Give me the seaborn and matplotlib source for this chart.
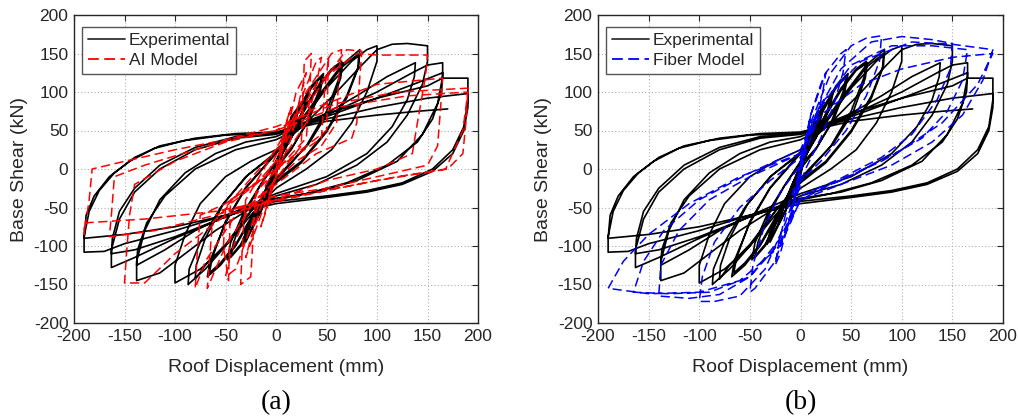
import numpy as np
import pandas as pd
import matplotlib
matplotlib.use("Agg")
import matplotlib.pyplot as plt
import seaborn as sns
from matplotlib.lines import Line2D

# ---------------- data ----------------
ticks = [-200, -150, -100, -50, 0, 50, 100, 150, 200]

# Experimental hysteresis path (displacement mm, base shear kN)
exp_disp = [0, 5, 10, 8, 0, -5, -10, -8, 0,
            8, 15, 12, 5, 0, -8, -15, -12, -5, 0,
            10, 20, 17, 8, 0, -10, -20, -17, -8, 0,
            10, 22, 19, 9, 0, -10, -22, -19, -9, 0,
            15, 30, 27, 15, 0, -15, -30, -27, -15, 0,
            15, 32, 29, 16, 0, -15, -33, -30, -16, 0,
            20, 35, 45, 42, 30, 15, 0, -20, -35, -45, -42, -30, -15, 0,
            20, 35, 47, 44, 32, 16, 0, -20, -35, -48, -45, -32, -16, 0,
            20, 40, 55, 65, 63, 50, 30, 10, 0, -20, -40, -55, -68, -65, -50, -30, -10, 0,
            20, 40, 55, 66, 64, 52, 32, 12, 0, -20, -40, -55, -66, -63, -50, -30, -10, 0,
            20, 45, 65, 83, 82, 70, 50, 25, 0, -25, -50, -70, -87, -86, -75, -55, -30, 0,
            20, 45, 65, 82, 81, 70, 50, 25, 0, -25, -50, -70, -80, -79, -70, -52, -28, 0,
            25, 50, 75, 90, 100, 100, 90, 75, 55, 30, 0, -25, -50, -75, -100, -100, -90, -75, -50, -25, 0,
            30, 60, 85, 100, 115, 130, 150, 150, 145, 130, 110, 80, 40, 0, -30, -60, -90, -115, -138, -138, -130, -115, -90, -60, -30, 0,
            40, 80, 110, 138, 137, 130, 115, 90, 50, 0, -40, -80, -110, -138, -137, -128, -110, -80, -40, 0,
            50, 100, 135, 150, 165, 165, 160, 145, 120, 80, 40, 0, -50, -100, -140, -163, -163, -155, -140, -115, -80, -40, 0,
            50, 100, 140, 165, 164, 155, 140, 110, 70, 30, 0, -50, -100, -140, -163, -162, -155, -140, -115, -80, -40, 0,
            50, 100, 150, 165, 190, 190, 186, 175, 155, 125, 90, 50, 0, -50, -100, -150, -170, -190, -190, -185, -175, -160, -140, -115, -80, -40, 0,
            50, 100, 150, 190, 190, 186, 175, 155, 125, 90, 50, 0, -50, -100, -150, -190, -188, -180, -165, -145, -120, -90, -50, 0,
            50, 100, 140, 170]
exp_shear = [0, 25, 40, 30, 10, -15, -38, -28, -8,
             35, 55, 42, 15, 2, -32, -55, -42, -15, 0,
             45, 70, 55, 25, 0, -40, -68, -52, -20, 5,
             48, 75, 60, 28, 4, -42, -72, -56, -22, 3,
             65, 95, 78, 40, 5, -55, -95, -78, -40, -5,
             68, 98, 80, 42, 8, -55, -98, -80, -42, -2,
             70, 105, 120, 100, 60, 25, 0, -60, -100, -115, -95, -55, -20, 10,
             72, 108, 124, 102, 62, 28, 5, -58, -98, -118, -96, -56, -22, 8,
             60, 105, 130, 140, 120, 75, 30, 0, -15, -55, -100, -125, -140, -118, -70, -25, 5, 20,
             58, 102, 128, 138, 118, 74, 32, 5, -12, -52, -98, -122, -135, -115, -68, -24, 6, 22,
             55, 100, 135, 155, 135, 95, 50, 10, -15, -55, -100, -130, -150, -130, -95, -50, -10, 20,
             52, 98, 132, 150, 130, 92, 48, 8, -18, -55, -98, -125, -143, -125, -90, -45, -8, 22,
             60, 105, 140, 155, 160, 140, 100, 60, 25, 0, -25, -60, -100, -130, -148, -125, -85, -45, -10, 10, 25,
             60, 100, 135, 155, 162, 163, 160, 140, 110, 70, 35, 5, -20, -35, -55, -80, -110, -135, -145, -120, -80, -40, -5, 20, 35, 42,
             65, 95, 120, 138, 120, 90, 55, 20, -10, -32, -55, -80, -105, -125, -105, -70, -35, 0, 25, 38,
             70, 100, 125, 135, 138, 120, 85, 45, 10, -15, -30, -38, -62, -90, -115, -128, -105, -65, -30, 0, 25, 40, 45,
             68, 92, 112, 125, 100, 65, 35, 5, -18, -32, -40, -62, -88, -105, -110, -90, -55, -25, 5, 28, 42, 46,
             72, 92, 108, 118, 118, 90, 55, 25, 0, -18, -28, -35, -42, -60, -80, -97, -107, -108, -88, -55, -28, -5, 15, 30, 40, 46, 48,
             65, 80, 92, 98, 80, 50, 20, -3, -20, -30, -37, -45, -60, -75, -85, -90, -60, -35, -10, 10, 27, 37, 44, 47,
             62, 70, 75, 78]

# AI model path
ai_disp = [0, 8, 15, 10, 5, -5, -15, -10, 0,
           20, 30, 25, 15, -15, -30, -25, -10,
           25, 28, 35, 33, 30, -20, -25, -35, -33, -30,
           15, 40, 45, 40, 30, 10, -10, -40, -50, -45, -30, -10,
           50, 52, 48, 45, -45, -47, -52, -50,
           10, 30, 55, 65, 62, 60, 45, 20, -20, -50, -68, -66, -63, -45, -20, 0,
           20, 50, 70, 85, 83, 80, 75, 40, 0, -40, -70, -80, -78, -75, -50, -10, 10,
           40, 80, 100, 150, 148, 140, 135, 100, 50, 0, -50, -100, -130, -150, -148, -145, -140, -100, -50, 0,
           40, 100, 165, 163, 160, 150, 100, 50, 0, -60, -120, -165, -163, -160, -130, -80, -30, 0,
           60, 120, 190, 188, 185, 170, 100, 50, 0, -60, -130, -190, -190, -185, -182, -150, -100, -50, 0,
           60, 130, 190, 185, 168, 120, 60, 0, -40]
ai_shear = [0, 50, 80, 60, 20, -30, -75, -55, -10,
            100, 125, 100, 40, -60, -115, -90, -30,
            30, 140, 150, 90, 40, -30, -140, -150, -90, -40,
            60, 140, 145, 110, 60, 20, -20, -130, -140, -110, -60, -10,
            50, 145, 100, 40, -40, -145, -100, -50,
            40, 100, 150, 155, 120, 60, 30, 10, -40, -100, -155, -120, -70, -45, -20, 10,
            60, 120, 155, 153, 120, 60, 40, 20, -20, -60, -120, -155, -110, -60, -45, -10, 45,
            110, 150, 148, 148, 120, 60, 20, 0, -15, -40, -60, -110, -148, -148, -110, -60, -20, 10, 35, 50,
            80, 110, 118, 80, 30, 5, -10, -25, -35, -60, -80, -88, -60, -10, 5, 25, 45, 55,
            85, 100, 105, 60, 20, 0, -15, -28, -40, -55, -65, -70, -85, -40, 0, 10, 25, 38, 50,
            80, 95, 100, 50, 0, -10, -25, -42, -52]

# Fiber model path
fib_disp = [0, 5, 10, 8, 0, -5, -10, -8, 0,
            10, 20, 25, 22, 15, 5, 0, -10, -20, -25, -22, -15, -5, 0,
            10, 25, 40, 45, 42, 32, 20, 5, -10, -25, -45, -50, -47, -37, -20, 0,
            10, 30, 50, 65, 80, 78, 65, 45, 20, 0, -15, -35, -60, -85, -100, -97, -85, -60, -30, 0,
            15, 40, 70, 100, 130, 150, 148, 135, 110, 80, 40, 0, -20, -50, -80, -110, -140, -138, -120, -90, -50, 0,
            20, 50, 90, 130, 165, 160, 145, 120, 80, 30, 0, -20, -50, -90, -130, -165, -155, -135, -100, -50, 0,
            20, 60, 110, 150, 190, 180, 160, 130, 90, 40, 0, -20, -60, -100, -150, -190, -175, -150, -110, -60, 0,
            20, 60, 100, 150, 190, 175, 140, 100, 40, 0]
fib_shear = [0, 40, 70, 50, 10, -35, -70, -50, -10,
             70, 110, 125, 100, 60, 20, 5, -60, -110, -125, -100, -60, -20, -5,
             70, 125, 150, 155, 125, 80, 40, 0, -60, -120, -155, -160, -125, -80, -30, 5,
             60, 125, 160, 170, 173, 140, 95, 50, 10, -15, -70, -130, -165, -172, -172, -140, -95, -50, -15, 15,
             70, 130, 165, 172, 168, 163, 130, 90, 45, 15, -12, -35, -90, -140, -163, -168, -165, -125, -80, -40, -10, 20,
             80, 135, 160, 160, 155, 115, 75, 40, 10, -20, -40, -95, -140, -160, -162, -160, -120, -80, -40, -5, 25,
             85, 140, 165, 162, 155, 115, 70, 35, 5, -20, -40, -100, -145, -160, -162, -155, -120, -85, -45, -10, 20,
             70, 110, 130, 145, 150, 110, 60, 25, -15, -35]

legend_labels = ["Experimental", "AI Model", "Fiber Model"]
panel_labels = ["(a)", "(b)"]
axis_labels = ["Roof Displacement (mm)", "Base Shear (kN)"]

# ---------------- plotting ----------------
sns.set_style("white")
plt.rcParams["font.family"] = ["Liberation Sans", "DejaVu Sans"]

W, H = 1018, 417
fig = plt.figure(figsize=(W / 100, H / 100), dpi=100)
ax_a = fig.add_axes([74 / W, 94 / H, 404 / W, 308 / H])
ax_b = fig.add_axes([598 / W, 94 / H, 405 / W, 308 / H])

exp_df = pd.DataFrame({"d": exp_disp, "v": exp_shear})
ai_df = pd.DataFrame({"d": ai_disp, "v": ai_shear})
fib_df = pd.DataFrame({"d": fib_disp, "v": fib_shear})

dash = (0, (6, 3))
panels = [(ax_a, ai_df, "#ff0000", legend_labels[1], panel_labels[0]),
          (ax_b, fib_df, "#0000ff", legend_labels[2], panel_labels[1])]

for ax, mdf, col, lab, plab in panels:
    sns.lineplot(data=exp_df, x="d", y="v", sort=False, estimator=None,
                 color="black", lw=1.2, ax=ax)
    sns.lineplot(data=mdf, x="d", y="v", sort=False, estimator=None,
                 color=col, lw=1.1, linestyle=dash, ax=ax)
    ax.set_xlim(-200, 200)
    ax.set_ylim(-200, 200)
    ax.set_xticks(ticks)
    ax.set_yticks(ticks)
    ax.set_xticklabels([str(t) for t in ticks])
    ax.set_yticklabels([str(t) for t in ticks])
    ax.tick_params(direction="in", top=True, right=True, length=4, width=0.8,
                   labelsize=12.5, colors="#262626", pad=4)
    ax.grid(True, linestyle=(0, (1, 2)), color="#b0b0b0", lw=0.8)
    for s in ax.spines.values():
        s.set_color("#262626")
        s.set_linewidth(1.0)
    ax.set_xlabel(axis_labels[0], fontsize=14, color="#262626", labelpad=11)
    ax.set_ylabel(axis_labels[1], fontsize=14, color="#262626", labelpad=4)
    handles = [Line2D([], [], color="#333333", lw=1.3),
               Line2D([], [], color=col, lw=1.3, linestyle=dash)]
    leg = ax.legend(handles, [legend_labels[0], lab], loc="upper left",
                    fontsize=12.5, frameon=True, fancybox=False,
                    edgecolor="#555555", framealpha=1, borderpad=0.35,
                    handlelength=2.1, handletextpad=0.25, labelspacing=0.25,
                    borderaxespad=0.0, bbox_to_anchor=(8 / 404, 1 - 12 / 308))
    leg.get_frame().set_linewidth(1.0)
    ax.text(0.5, -0.26, plab, transform=ax.transAxes, ha="center", va="center",
            fontsize=20, family=["Liberation Serif", "DejaVu Serif"], color="black")

fig.savefig("out.png", dpi=100)
